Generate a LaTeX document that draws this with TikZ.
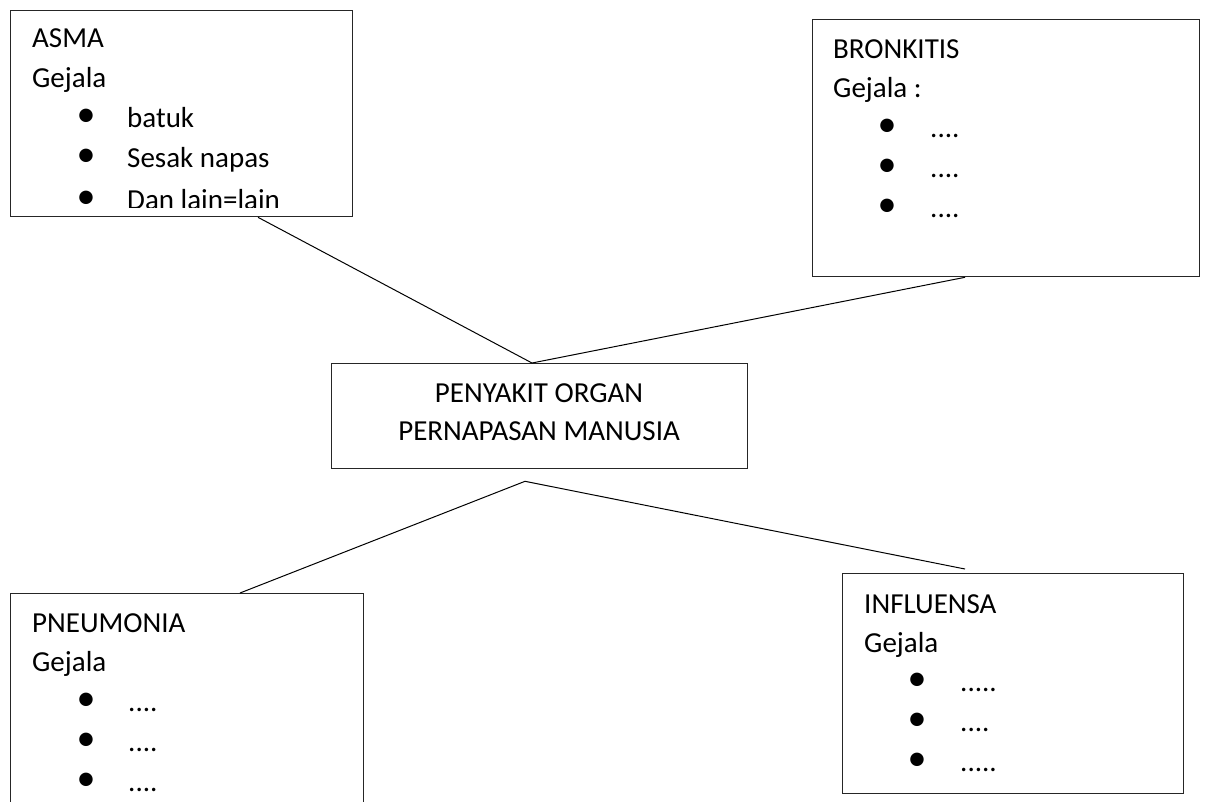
\documentclass[tikz,border=0pt]{standalone}
\usepackage{fontspec}
\setmainfont{Carlito}
\usetikzlibrary{calc}
\begin{document}
\begin{tikzpicture}[x=1pt,y=-1pt,
  box/.style={draw=black!85, line width=1.3pt, rectangle, anchor=north west, inner sep=0pt},
  txt/.style={anchor=base west, inner sep=0pt, font=\fontsize{29}{35}\selectfont},
  ctxt/.style={anchor=base, inner sep=0pt, font=\fontsize{29}{35}\selectfont},
  bul/.style={anchor=base, inner sep=0pt, font=\fontsize{38}{44}\selectfont},
  conn/.style={draw=black, line width=1pt}]
\clip (0,0) rectangle (1210,801);
\fill[white] (0,0) rectangle (1210,801);

% boxes
\node[box, minimum width=342pt, minimum height=206pt] (asma) at (10,10) {};
\node[box, minimum width=387pt, minimum height=257pt] (bron) at (812,19) {};
\node[box, minimum width=416pt, minimum height=105pt] (pusat) at (331,363) {};
\node[box, minimum width=353pt, minimum height=260pt] (pneu) at (10,593) {};
\node[box, minimum width=341pt, minimum height=220pt] (infl) at (842,573) {};

% ASMA
\begin{scope}
\clip (10,10) rectangle (352,207);
\node[txt] (asma1) at (32,47) {ASMA};
\node[txt] (asma2) at (32,87) {Gejala};
\node[bul] (asmab1) at (86,126) {•};
\node[txt] (asmai1) at (127,127) {batuk};
\node[bul] (asmab2) at (86,166) {•};
\node[txt] (asmai2) at (127,167) {Sesak napas};
\node[bul] (asmab3) at (86,208) {•};
\node[txt] (asmai3) at (127,209) {Dan lain=lain};
\end{scope}

% BRONKITIS
\node[txt] (bron1) at (833,58) {BRONKITIS};
\node[txt] (bron2) at (833,97) {Gejala :};
\node[bul] (bronb1) at (887,136) {•};
\node[txt] (broni1) at (930,137) {....};
\node[bul] (bronb2) at (887,176) {•};
\node[txt] (broni2) at (930,177) {....};
\node[bul] (bronb3) at (887,216) {•};
\node[txt] (broni3) at (930,217) {....};

% center
\node[ctxt] (pusat1) at (539,402) {PENYAKIT ORGAN};
\node[ctxt] (pusat2) at (539,440) {PERNAPASAN MANUSIA};

% PNEUMONIA
\node[txt] (pneu1) at (32,632) {PNEUMONIA};
\node[txt] (pneu2) at (32,671) {Gejala};
\node[bul] (pneub1) at (86,710) {•};
\node[txt] (pneui1) at (128,711) {....};
\node[bul] (pneub2) at (86,750) {•};
\node[txt] (pneui2) at (128,751) {....};
\node[bul] (pneub3) at (86,790) {•};
\node[txt] (pneui3) at (128,791) {....};

% INFLUENSA
\node[txt] (infl1) at (864,613) {INFLUENSA};
\node[txt] (infl2) at (864,652) {Gejala};
\node[bul] (inflb1) at (917,690) {•};
\node[txt] (infli1) at (960,691) {.....};
\node[bul] (inflb2) at (917,730) {•};
\node[txt] (infli2) at (960,731) {....};
\node[bul] (inflb3) at (917,770) {•};
\node[txt] (infli3) at (960,771) {.....};

% connectors
\coordinate (asmaC) at ($(asma.south west)+(248,0)$);
\coordinate (bronC) at ($(bron.south west)+(153,0)$);
\coordinate (pusatT) at ($(pusat.north west)+(201,0)$);
\coordinate (apex) at ($(pusat.south west)+(194,12)$);
\coordinate (pneuC) at ($(pneu.north west)+(230,0)$);
\coordinate (inflC) at ($(infl.north west)+(123,-4)$);
\draw[conn] (asmaC) -- (pusatT);
\draw[conn] (bronC) -- (pusatT);
\draw[conn] (pneuC) -- (apex) -- (inflC);
\end{tikzpicture}
\end{document}
